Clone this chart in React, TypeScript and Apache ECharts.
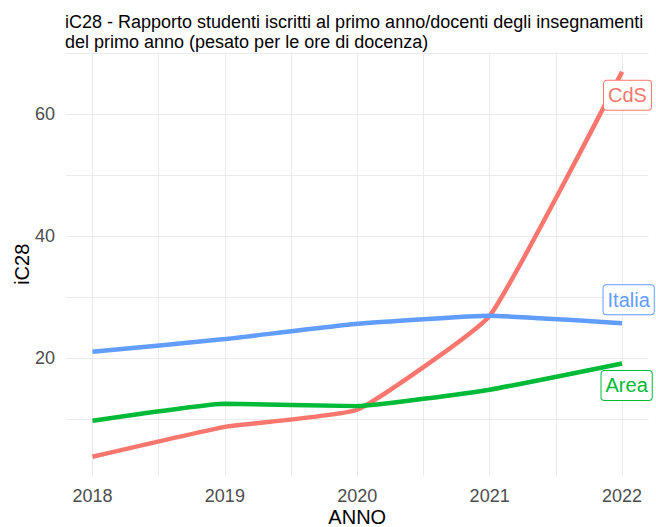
import React, { useEffect, useRef } from "react";
import * as echarts from "echarts";

const years = [2018, 2019, 2020, 2021, 2022];
const cds = [3.8, 8.7, 11.5, 26.9, 66.9];
const italia = [21.0, 23.1, 25.6, 26.9, 25.7];
const area = [9.7, 12.5, 12.1, 14.8, 19.1];
const xLabelTicks = [2018, 2019, 2020, 2021, 2022];
const xGridTicks = [2018, 2018.5, 2019, 2019.5, 2020, 2020.5, 2021, 2021.5, 2022];
const yLabelTicks = [20, 40, 60];
const yGridTicks = [10, 20, 30, 40, 50, 60, 70];

const FONT = "'Liberation Sans', Arial, Helvetica, sans-serif";

const seriesDefs = [
  { name: "CdS", values: cds, color: "#F8766D", offset: [-18, 23.5] },
  { name: "Italia", values: italia, color: "#619CFF", offset: [-18.5, -23.5] },
  { name: "Area", values: area, color: "#00BA38", offset: [-20.5, 22] },
];

export default function App() {
  const ref = useRef<HTMLDivElement>(null);
  useEffect(() => {
    if (!ref.current) return;
    const chart = echarts.init(ref.current, null, { renderer: "svg" });
    const allVals = [...cds, ...italia, ...area];
    const lo = Math.min(...allVals);
    const hi = Math.max(...allVals);
    const pad = (hi - lo) * 0.05;
    chart.setOption({
      animation: false,
      backgroundColor: "#FFFFFF",
      title: {
        text: "iC28 - Rapporto studenti iscritti al primo anno/docenti degli insegnamenti\ndel primo anno (pesato per le ore di docenza)",
        left: 65,
        top: 11.5,
        padding: 0,
        textStyle: {
          fontFamily: FONT,
          fontSize: 18,
          fontWeight: "normal",
          color: "#000000",
          lineHeight: 20,
        },
      },
      grid: {
        left: 66,
        right: 7.5,
        top: 52.6,
        bottom: 51,
        containLabel: false,
        outerBoundsMode: "none",
      },
      xAxis: {
        type: "value",
        min: 2017.8,
        max: 2022.2,
        name: "ANNO",
        nameLocation: "middle",
        nameGap: 31,
        nameMoveOverlap: false,
        nameTextStyle: { fontFamily: FONT, fontSize: 20, color: "#000000", lineHeight: 20 },
        axisLine: { show: false },
        axisTick: { show: false, customValues: xGridTicks },
        axisLabel: {
          customValues: xLabelTicks,
          formatter: (v: number) => String(v),
          fontFamily: FONT,
          fontSize: 18,
          color: "#4D4D4D",
          margin: 10.5,
        },
        splitLine: { show: true, lineStyle: { color: "#EBEBEB", width: 1 } },
      },
      yAxis: {
        type: "value",
        min: lo - pad,
        max: hi + pad,
        name: "iC28",
        nameLocation: "middle",
        nameGap: 34,
        nameMoveOverlap: false,
        nameTextStyle: { fontFamily: FONT, fontSize: 20, color: "#000000", lineHeight: 20 },
        axisLine: { show: false },
        axisTick: { show: false, customValues: yGridTicks },
        axisLabel: {
          customValues: yLabelTicks,
          fontFamily: FONT,
          fontSize: 18,
          color: "#4D4D4D",
          margin: 11,
        },
        splitLine: { show: true, lineStyle: { color: "#EBEBEB", width: 1 } },
      },
      series: seriesDefs.map((s) => ({
        name: s.name,
        type: "line",
        data: years.map((y, i) => [y, s.values[i]]),
        smooth: 0.12,
        symbol: "none",
        clip: false,
        lineStyle: { color: s.color, width: 4.5 },
        itemStyle: { color: s.color },
        endLabel: {
          show: true,
          formatter: s.name,
          distance: 0,
          offset: s.offset,
          fontFamily: FONT,
          fontSize: 20,
          color: s.color,
          backgroundColor: "#FFFFFF",
          borderColor: s.color,
          borderWidth: 1,
          borderRadius: 3,
          padding: [4.5, 4, 4.5, 4],
        },
      })),
    });
    return () => chart.dispose();
  }, []);
  return (
    <div
      ref={ref}
      style={{ position: "fixed", left: 0, top: 0, width: 656, height: 527, background: "#fff" }}
    />
  );
}
